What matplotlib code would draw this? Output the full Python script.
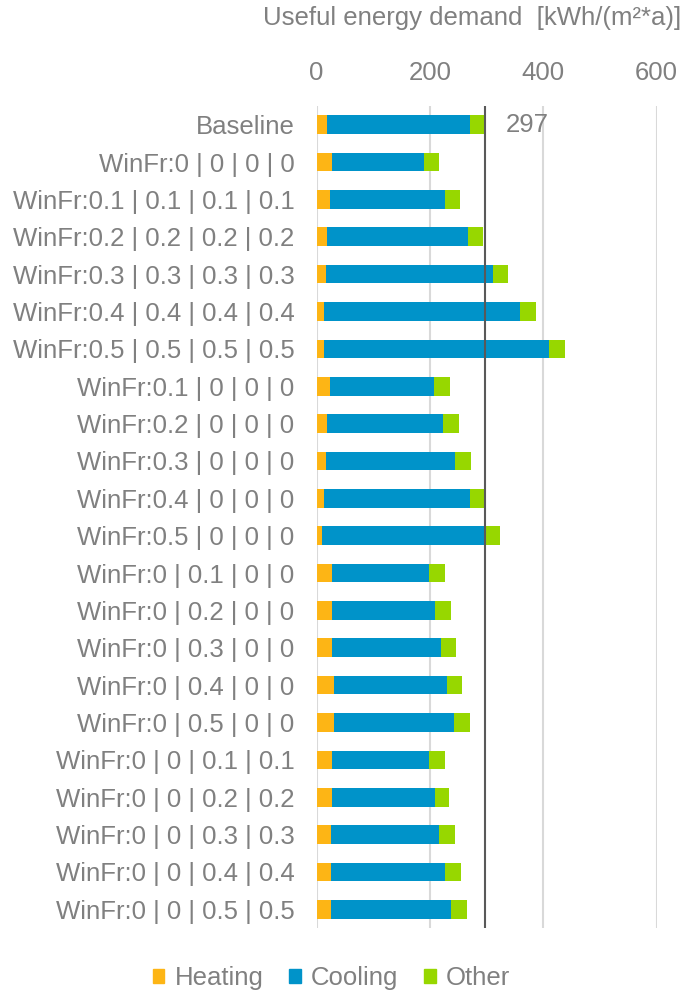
import matplotlib
matplotlib.use("Agg")
import matplotlib.pyplot as plt
from matplotlib.patches import Patch
import numpy as np

plt.rcParams['font.family'] = ['Liberation Sans', 'DejaVu Sans']

#Data (kWh/(m2*a))
labels = ["Baseline",
          "WinFr:0 | 0 | 0 | 0",
          "WinFr:0.1 | 0.1 | 0.1 | 0.1",
          "WinFr:0.2 | 0.2 | 0.2 | 0.2",
          "WinFr:0.3 | 0.3 | 0.3 | 0.3",
          "WinFr:0.4 | 0.4 | 0.4 | 0.4",
          "WinFr:0.5 | 0.5 | 0.5 | 0.5",
          "WinFr:0.1 | 0 | 0 | 0",
          "WinFr:0.2 | 0 | 0 | 0",
          "WinFr:0.3 | 0 | 0 | 0",
          "WinFr:0.4 | 0 | 0 | 0",
          "WinFr:0.5 | 0 | 0 | 0",
          "WinFr:0 | 0.1 | 0 | 0",
          "WinFr:0 | 0.2 | 0 | 0",
          "WinFr:0 | 0.3 | 0 | 0",
          "WinFr:0 | 0.4 | 0 | 0",
          "WinFr:0 | 0.5 | 0 | 0",
          "WinFr:0 | 0 | 0.1 | 0.1",
          "WinFr:0 | 0 | 0.2 | 0.2",
          "WinFr:0 | 0 | 0.3 | 0.3",
          "WinFr:0 | 0 | 0.4 | 0.4",
          "WinFr:0 | 0 | 0.5 | 0.5"]

heating = [18, 28, 23, 18, 16, 13, 13, 23, 18, 16, 13, 10, 28, 28, 28, 31, 31, 28, 28, 26, 26, 26]
cooling = [252, 161, 203, 249, 295, 346, 397, 184, 206, 229, 257, 287, 171, 181, 191, 200, 211, 171, 181, 191, 201, 212]
other = [27, 27, 28, 26, 27, 28, 28, 28, 28, 27, 25, 26, 27, 28, 28, 26, 28, 27, 25, 28, 28, 28]

ticks = [0, 200, 400, 600]

#Colours
c_heat = "#FDB515"
c_cool = "#0093C9"
c_other = "#97D700"
c_text = "#808080"
fs = 18.5

heating = np.array(heating)
cooling = np.array(cooling)
other = np.array(other)
baseline_total = heating[0] + cooling[0] + other[0]

fig = plt.figure(figsize=(6.85, 9.93), dpi=100)
ax = fig.add_axes([316.5/685, 1-928/993, 340/685, (928-106)/993])

y = np.arange(len(labels))
ax.barh(y, heating, height=0.5, color=c_heat, zorder=3)
ax.barh(y, cooling, left=heating, height=0.5, color=c_cool, zorder=3)
ax.barh(y, other, left=heating+cooling, height=0.5, color=c_other, zorder=3)

#Reference line for baseline
ax.axvline(baseline_total, color="#595959", linewidth=1.5, zorder=4)
ax.text(baseline_total + 37, 0, f"{baseline_total:.0f}", color=c_text,
        fontsize=fs, va="center", ha="left")

ax.set_xlim(0, 600)
ax.set_ylim(len(labels)-0.5, -0.5)
ax.set_xticks(ticks)
ax.set_yticks(y)
ax.set_yticklabels(labels)
ax.xaxis.tick_top()
ax.tick_params(axis="x", length=0, pad=15, labelsize=fs, labelcolor=c_text)
ax.tick_params(axis="y", length=0, pad=16, labelsize=fs, labelcolor=c_text)
ax.grid(axis="x", color="#D9D9D9", linewidth=1.5, zorder=0)
ax.set_axisbelow(True)
for s in ax.spines.values():
    s.set_visible(False)

fig.text(681/685, 1-18/993, "Useful energy demand  [kWh/(m\u00b2*a)]",
         color=c_text, fontsize=fs, ha="right", va="center")

handles = [Patch(color=c_heat, label="Heating"),
           Patch(color=c_cool, label="Cooling"),
           Patch(color=c_other, label="Other")]
leg = fig.legend(handles=handles, loc="center", ncol=3, frameon=False,
                 bbox_to_anchor=(331.5/685, 1-978/993), fontsize=fs,
                 handlelength=0.45, handleheight=0.45, handletextpad=0.4,
                 columnspacing=1.0)
for t in leg.get_texts():
    t.set_color(c_text)

fig.savefig("out.png", dpi=100)
